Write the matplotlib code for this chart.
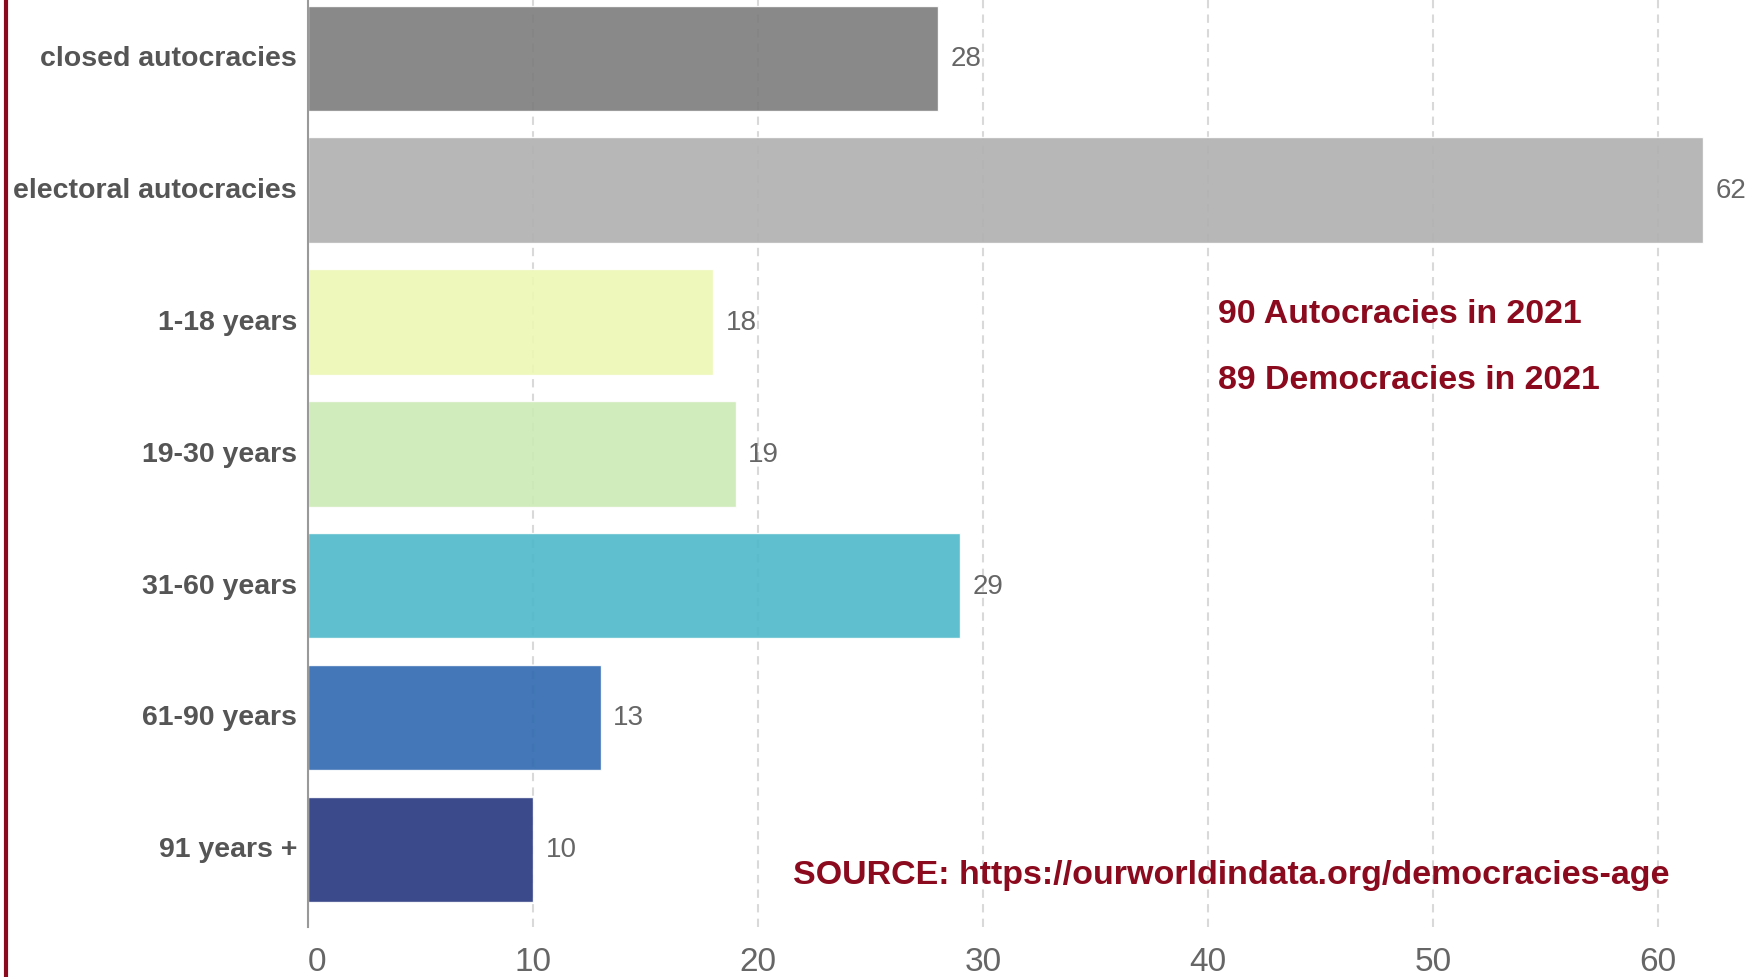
import matplotlib.pyplot as plt
from matplotlib.lines import Line2D

categories = [
    "closed autocracies",
    "electoral autocracies",
    "1-18 years",
    "19-30 years",
    "31-60 years",
    "61-90 years",
    "91 years +",
]
counts = [28, 62, 18, 19, 29, 13, 10]
bar_colors = ["#7c7c7c", "#b0b0b0", "#edf8b3", "#cbe9b5",
              "#4db8c9", "#2e68af", "#25367d"]
x_ticks = [0, 10, 20, 30, 40, 50, 60]

note_lines = ["90 Autocracies in 2021", "89 Democracies in 2021"]
source_text = "SOURCE: https://ourworldindata.org/democracies-age"

dark_red = "#8b0a1e"
label_gray = "#555555"
number_gray = "#666666"

plt.rcParams["font.family"] = ["Liberation Sans", "DejaVu Sans"]

fig = plt.figure(figsize=(17.57, 9.78), dpi=100)
ax = fig.add_axes([308 / 1757, 1 - 928 / 978, 1 - 308 / 1757, 928 / 978])

positions = list(range(len(categories)))
ax.barh(positions, counts, height=0.8, color=bar_colors, alpha=0.9,
        edgecolor="white", linewidth=1, zorder=2)

for pos, value in zip(positions, counts):
    ax.text(value + 0.55, pos, str(value), va="center", ha="left",
            fontsize=20, color=number_gray)

ax.set_xlim(0, 64.4)
ax.set_ylim(6.59, -0.45)

ax.set_yticks(positions)
ax.set_yticklabels(categories, fontsize=20.5, fontweight="bold",
                   color=label_gray, va="center")
ax.tick_params(axis="y", length=0, pad=8)

ax.set_xticks(x_ticks)
ax.set_xticklabels([str(t) for t in x_ticks], color=number_gray,
                   fontsize=24)
ax.tick_params(axis="x", length=0, pad=14)
ax.get_xticklabels()[0].set_horizontalalignment("left")

ax.grid(axis="x", color="#d9d9d9", linestyle=(0, (4, 3)), linewidth=1.5,
        zorder=1)
ax.set_axisbelow(True)

for side in ["top", "right", "bottom"]:
    ax.spines[side].set_visible(False)
ax.spines["left"].set_color("#999999")
ax.spines["left"].set_linewidth(1.5)

ax.text(40.44, 1.935, note_lines[0], va="center", ha="left",
        fontsize=24.4, fontweight="bold", color=dark_red)
ax.text(40.44, 2.435, note_lines[1], va="center", ha="left",
        fontsize=24.4, fontweight="bold", color=dark_red)
ax.text(21.56, 6.19, source_text, va="center", ha="left",
        fontsize=24.5, fontweight="bold", color=dark_red)

# red rule down the left edge
fig.add_artist(Line2D([5.5 / 1757, 5.5 / 1757], [0, 1], color=dark_red,
                      linewidth=3, transform=fig.transFigure))

fig.savefig("out.png", dpi=100)
